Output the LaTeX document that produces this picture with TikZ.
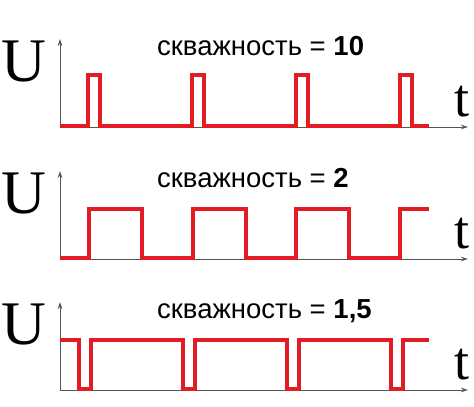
\documentclass[tikz,border=0pt]{standalone}
\usepackage{fontspec}
\setmainfont{Liberation Sans}
\newfontfamily\serifU{Liberation Serif}
\usetikzlibrary{arrows.meta}
\definecolor{pulsered}{RGB}{226,28,36}
\definecolor{axisgray}{RGB}{85,85,85}

\begin{document}
\begin{tikzpicture}[x=1pt,y=-1pt,
  axis/.style={axisgray,line width=0.8pt,-{Stealth[length=7pt,width=4.5pt]}},
  signal/.style={pulsered,line width=3.5pt,line join=miter},
  bigU/.style={font=\serifU\fontsize{62}{62}\selectfont,inner sep=0pt,anchor=base},
  bigt/.style={font=\serifU\fontsize{54}{54}\selectfont,inner sep=0pt,anchor=base},
  caption/.style={font=\fontsize{27.5}{27.5}\selectfont,inner sep=0pt,anchor=base west}]
\useasboundingbox (0,0) rectangle (474,407);

% axes, letters and captions of the three panels
\foreach \base/\num [count=\i] in {127/10, 259/2, 390/{1,5}} {
  \coordinate (o\i) at (60,\base);
  \coordinate (u\i) at (60,\base-88);
  \coordinate (e\i) at (468,\base);
  \draw[axis] (o\i) -- (u\i);
  \draw[axis] (o\i) -- (e\i);
  \node[bigU] (U\i) at (24,\base-46) {U};
  \node[bigt] (t\i) at (462,\base-11) {t};
  \node[caption] (cap\i) at (157,\base-72) {скважность = \textbf{\num}};
}

% duty 10
\draw[signal] (60,126) foreach \x in {88,192,296,400} {
  -- (\x,126) -- (\x,75) -- (\x+12,75) -- (\x+12,126) } -- (429,126);
% duty 2
\draw[signal] (60,258) foreach \x in {89,193,296} {
  -- (\x,258) -- (\x,209) -- (\x+53,209) -- (\x+53,258) }
  -- (400,258) -- (400,209) -- (429,209);
% duty 1,5
\draw[signal] (60,340) foreach \x in {79,183,287,391} {
  -- (\x,340) -- (\x,389) -- (\x+12,389) -- (\x+12,340) } -- (429,340);
\end{tikzpicture}
\end{document}
